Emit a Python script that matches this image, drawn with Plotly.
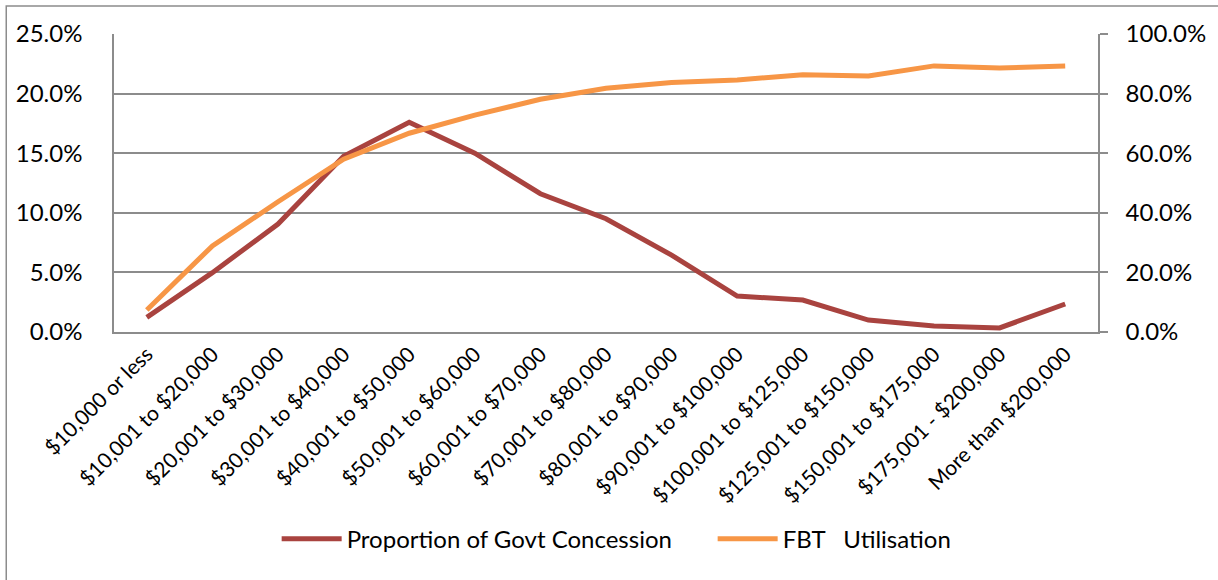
import plotly.graph_objects as go

# Income bands (x axis categories)
income_bands = [
    "$10,000 or less", "$10,001 to $20,000", "$20,001 to $30,000",
    "$30,001 to $40,000", "$40,001 to $50,000", "$50,001 to $60,000",
    "$60,001 to $70,000", "$70,001 to $80,000", "$80,001 to $90,000",
    "$90,001 to $100,000", "$100,001 to $125,000", "$125,001 to $150,000",
    "$150,001 to $175,000", "$175,001 - $200,000", "More than $200,000",
]

# Share of the government concession by income band (left axis)
govt_concession = [0.0123, 0.0498, 0.0906, 0.1475, 0.1760, 0.1500, 0.1160,
                   0.0950, 0.0645, 0.0302, 0.0268, 0.0100, 0.0050, 0.0034, 0.0235]

# FBT utilisation rate by income band (right axis)
fbt_utilisation = [0.074, 0.289, 0.437, 0.580, 0.667, 0.728, 0.781,
                   0.818, 0.837, 0.846, 0.863, 0.859, 0.893, 0.886, 0.893]

FONT = "Lato, Calibri, Carlito, sans-serif"
GRID = "#8c8c8c"

fig = go.Figure()
fig.add_trace(go.Scatter(
    x=income_bands, y=govt_concession, mode="lines",
    name="Proportion of Govt Concession",
    line=dict(color="#A9433F", width=5),
))
fig.add_trace(go.Scatter(
    x=income_bands, y=fbt_utilisation, mode="lines",
    name="FBT\u00a0\u00a0\u00a0Utilisation", yaxis="y2",
    line=dict(color="#F79646", width=5),
))

fig.update_layout(
    width=1218, height=580,
    margin=dict(l=114, r=118, t=34, b=248),
    paper_bgcolor="white", plot_bgcolor="white",
    font=dict(family=FONT, color="#000000", size=24),
    xaxis=dict(
        type="category", range=[-0.5, len(income_bands) - 0.5],
        showgrid=False, showline=True, linecolor=GRID,
        linewidth=1.5, tickangle=-45, ticks="",
        tickfont=dict(size=21), mirror=False,
    ),
    yaxis=dict(
        range=[0, 0.25], dtick=0.05, tickformat=".1%",
        showgrid=True, gridcolor=GRID, gridwidth=1.5,
        showline=True, linecolor=GRID, linewidth=1.5,
        ticks="", ticklabelstandoff=25, zeroline=False,
        tickfont=dict(size=24),
    ),
    yaxis2=dict(
        range=[0, 1], dtick=0.2, tickformat=".1%",
        overlaying="y", side="right", showgrid=False,
        showline=True, linecolor=GRID, linewidth=1.5,
        ticks="outside", ticklen=8, tickcolor=GRID, tickwidth=1.5,
        ticklabelstandoff=13, zeroline=False,
        tickfont=dict(size=24),
    ),
    legend=dict(
        orientation="h", x=0.1653, xanchor="left", y=-0.695, yanchor="middle",
        font=dict(size=24), itemwidth=60, entrywidth=361, traceorder="normal",
        bgcolor="rgba(0,0,0,0)",
    ),
    showlegend=True,
    shapes=[dict(
        type="rect", xref="paper", yref="paper",
        x0=-0.1095, x1=1.2, y0=-1.0, y1=1.094,
        line=dict(color="#8c8c8c", width=1.5), layer="below",
    )],
)

fig.write_html("out.html")
